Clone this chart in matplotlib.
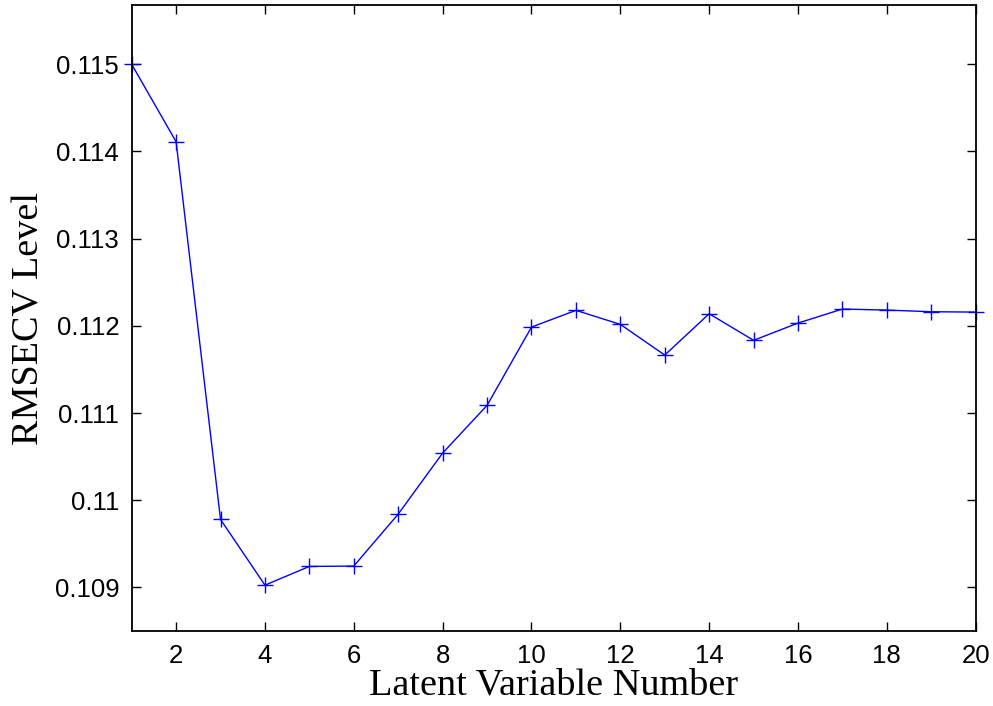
import numpy as np
import matplotlib
matplotlib.use("Agg")
import matplotlib.pyplot as plt
from matplotlib.ticker import FuncFormatter

# latent variables vs cross-validation error
lv = list(range(1, 21))
rmsecv = [0.11500, 0.114112, 0.10978, 0.109026, 0.109241, 0.109245, 0.109841,
          0.110541, 0.111088, 0.111986, 0.112178, 0.112017, 0.111665, 0.112139,
          0.111834, 0.112032, 0.112193, 0.112181, 0.112162, 0.112158]

fig = plt.figure(figsize=(9.93, 7.06), dpi=100)
ax = fig.add_axes([0.1326, 0.1062, 0.85, 0.8867])

ax.plot(lv, rmsecv, color='#0000ff', lw=1.0, marker='+', ms=11, mew=1.0,
        clip_on=False)

ax.set_xlim(1, 20)
ax.set_ylim(0.1085, 0.11568)
ax.set_xticks(range(2, 21, 2))
ax.set_yticks([0.109, 0.110, 0.111, 0.112, 0.113, 0.114, 0.115])
ax.yaxis.set_major_formatter(FuncFormatter(lambda v, p: '%g' % round(v, 6)))

ax.tick_params(direction='in', length=6.5, width=1.0, top=True, right=True,
               labelsize=18.5, pad=9)
for lbl in ax.get_xticklabels() + ax.get_yticklabels():
    lbl.set_family('Liberation Sans')
for s in ax.spines.values():
    s.set_linewidth(1.3)

ax.set_xlabel('Latent Variable Number', family='Liberation Serif', fontsize=27.5,
              labelpad=0)
ax.set_ylabel('RMSECV Level', family='Liberation Serif', fontsize=27.5,
              labelpad=6)

fig.savefig('out.png', dpi=100)
